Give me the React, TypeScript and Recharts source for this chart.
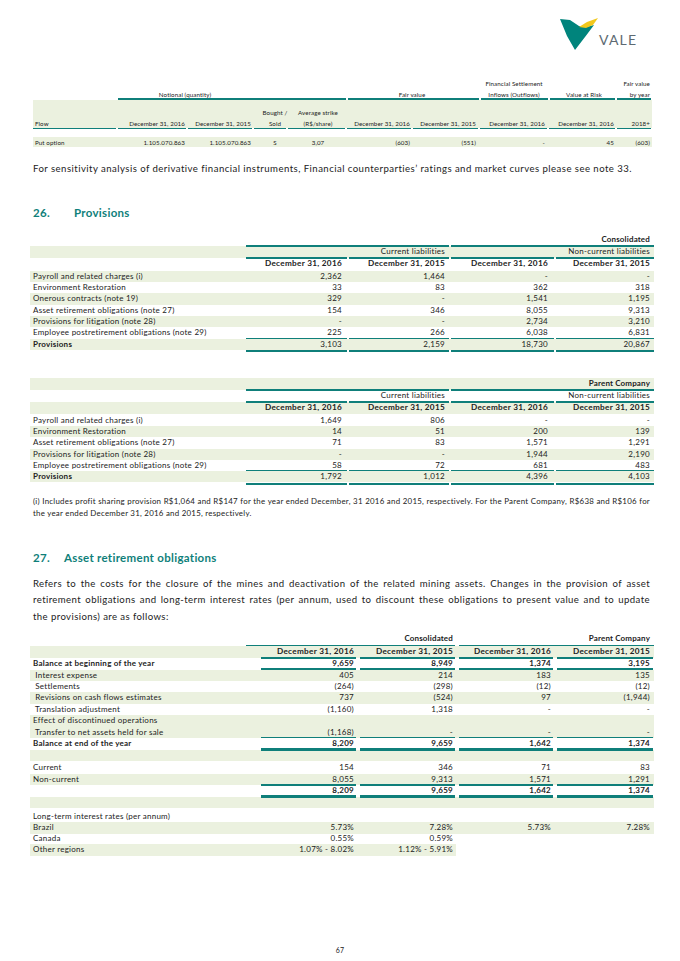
import React from "react";
import { Surface, Polygon, Text } from "recharts";

// ---- data ----
const flowHeaders = ["Flow", "December 31, 2016", "December 31, 2015", "Bought / Sold", "Average strike (R$/share)", "December 31, 2016", "December 31, 2015", "December 31, 2016", "December 31, 2016", "2018+"];
const flowRow = ["Put option", "1.105.070.863", "1.105.070.863", "S", "3,07", "(603)", "(551)", "-", "45", "(603)"];

const provDates = ["December 31, 2016", "December 31, 2015", "December 31, 2016", "December 31, 2015"];

const consLabels = [
  "Payroll and related charges (i)",
  "Environment Restoration",
  "Onerous contracts (note 19)",
  "Asset retirement obligations (note 27)",
  "Provisions for litigation (note 28)",
  "Employee postretirement obligations (note 29)",
  "Provisions",
];
const consCurrent2016 = ["2,362", "33", "329", "154", "-", "225", "3,103"];
const consCurrent2015 = ["1,464", "83", "-", "346", "-", "266", "2,159"];
const consNonCurrent2016 = ["-", "362", "1,541", "8,055", "2,734", "6,038", "18,730"];
const consNonCurrent2015 = ["-", "318", "1,195", "9,313", "3,210", "6,831", "20,867"];

const parentLabels = [
  "Payroll and related charges (i)",
  "Environment Restoration",
  "Asset retirement obligations (note 27)",
  "Provisions for litigation (note 28)",
  "Employee postretirement obligations (note 29)",
  "Provisions",
];
const parentCurrent2016 = ["1,649", "14", "71", "-", "58", "1,792"];
const parentCurrent2015 = ["806", "51", "83", "-", "72", "1,012"];
const parentNonCurrent2016 = ["-", "200", "1,571", "1,944", "681", "4,396"];
const parentNonCurrent2015 = ["-", "139", "1,291", "2,190", "483", "4,103"];

const aroLabels = [
  "Balance at beginning of the year",
  " Interest expense",
  " Settlements",
  " Revisions on cash flows estimates",
  " Translation adjustment",
  "Effect of discontinued operations",
  " Transfer to net assets held for sale",
  "Balance at end of the year",
  "",
  "Current",
  "Non-current",
  "",
  "",
  "Long-term interest rates (per annum)",
  "Brazil",
  "Canada",
  "Other regions",
];
const aroCons2016 = ["9,659", "405", "(264)", "737", "(1,160)", "", "(1,168)", "8,209", "", "154", "8,055", "8,209", "", "", "5.73%", "0.55%", "1.07% - 8.02%"];
const aroCons2015 = ["8,949", "214", "(298)", "(524)", "1,318", "", "-", "9,659", "", "346", "9,313", "9,659", "", "", "7.28%", "0.59%", "1.12% - 5.91%"];
const aroParent2016 = ["1,374", "183", "(12)", "97", "-", "", "-", "1,642", "", "71", "1,571", "1,642", "", "", "5.73%", "", ""];
const aroParent2015 = ["3,195", "135", "(12)", "(1,944)", "-", "", "-", "1,374", "", "83", "1,291", "1,374", "", "", "7.28%", "", ""];

const sensitivityNote =
  "For sensitivity analysis of derivative financial instruments, Financial counterparties’ ratings and market curves please see note 33.";
const footnoteLines = [
  "(i) Includes profit sharing provision R$1,064 and R$147 for the year ended December, 31 2016 and 2015, respectively. For the Parent Company, R$638 and R$106 for",
  "the year ended December 31, 2016 and 2015, respectively.",
];
const aroParagraph = [
  "Refers to the costs for the closure of the mines and deactivation of the related mining assets. Changes in the provision of asset",
  "retirement obligations and long-term interest rates (per annum, used to discount these obligations to present value and to update",
  "the provisions) are as follows:",
];

// ---- styles ----
const TEAL = "#0f7f7a";
const BAND = "#ebf1df";
const INK = "#222";
const FONT = "Lato, 'Open Sans', sans-serif";

type Align = "l" | "r" | "c";

const T: React.FC<{
  x: number;
  y: number;
  a?: Align;
  s?: number;
  w?: number;
  c?: string;
  ls?: number;
  children: React.ReactNode;
}> = ({ x, y, a = "l", s = 8, w = 400, c = INK, ls = 0.25, children }) => {
  const lh = s * 1.4;
  const style: React.CSSProperties = {
    position: "absolute",
    top: y - lh / 2,
    height: lh,
    lineHeight: `${lh}px`,
    fontSize: s,
    fontWeight: w,
    color: c,
    letterSpacing: ls,
    whiteSpace: "pre",
  };
  if (a === "l") style.left = x;
  if (a === "r") style.right = 680 - x;
  if (a === "c") {
    style.left = x - 100;
    style.width = 200;
    style.textAlign = "center";
  }
  return <div style={style}>{children}</div>;
};

const Band: React.FC<{ y: number; x0?: number; x1?: number; h?: number }> = ({ y, x0 = 30, x1 = 654, h = 11.2 }) => (
  <div style={{ position: "absolute", left: x0, width: x1 - x0, top: y - h / 2, height: h, background: BAND }} />
);

const Rule: React.FC<{ y: number; segs: number[][]; t?: number }> = ({ y, segs, t = 1.2 }) => (
  <>
    {segs.map(([a, b], i) => (
      <div key={i} style={{ position: "absolute", left: a, width: b - a, top: y - t / 2, height: t, background: TEAL }} />
    ))}
  </>
);

const provCols = [342, 445, 548, 650];
const provSegs = [[246, 347], [349, 449], [451, 554], [556, 654]];
const provHalf = [[246, 449], [451, 654]];

const aroCols = [354, 453, 551, 650];
const aroSegs = [[261, 356], [360, 455], [459, 553], [557, 653]];

const Logo = () => (
  <div style={{ position: "absolute", left: 555, top: 12 }}>
    <Surface width={100} height={45} viewBox={{ x: 0, y: 0, width: 100, height: 45 }}>
      <Polygon
        points={[
          { x: 5, y: 7 }, { x: 15, y: 8 }, { x: 24, y: 14 }, { x: 31, y: 15 }, { x: 39, y: 13 },
          { x: 30, y: 25 }, { x: 20, y: 38 }, { x: 12, y: 24 },
        ]}
        fill="#00847c"
      />
      <Polygon
        points={[{ x: 24, y: 15 }, { x: 32, y: 10 }, { x: 43, y: 6 }, { x: 38, y: 13 }, { x: 31, y: 16 }]}
        fill="#f2c81c"
      />
      <Text x={44} y={28} verticalAnchor="middle" fontSize={14} fill="#5d6a72" fontFamily={FONT} letterSpacing={1.2}>
        VALE
      </Text>
    </Surface>
  </div>
);

const ProvTable: React.FC<{
  top: number;
  title: string;
  labels: string[];
  cols: string[][];
  firstBand: boolean;
}> = ({ top, title, labels, cols, firstBand }) => {
  const yTitle = top;
  const yCur = top + 12;
  const yDates = top + 24;
  const body0 = top + 36.5;
  const rh = 11.27;
  const last = labels.length - 1;
  return (
    <>
      {firstBand ? <Band y={yCur} /> : <Band y={yTitle} h={12} />}
      {!firstBand && <Band y={yDates} />}
      {labels.map((_, i) => ((i % 2 === 0) === firstBand ? <Band key={i} y={body0 + i * rh} /> : null))}
      <T x={650} y={yTitle} a="r" w={700} ls={0.15}>{title}</T>
      <Rule y={yTitle + 6} segs={provHalf} />
      <T x={445} y={yCur} a="r">Current liabilities</T>
      <T x={650} y={yCur} a="r">Non-current liabilities</T>
      <Rule y={yCur + 6} segs={provSegs} t={1.6} />
      {provDates.map((d, j) => (
        <T key={j} x={provCols[j]} y={yDates} a="r" w={700} s={8.2} ls={0.3}>{d}</T>
      ))}
      {labels.map((l, i) => (
        <React.Fragment key={i}>
          <T x={33} y={body0 + i * rh} w={i === last ? 700 : 400}>{l}</T>
          {cols.map((c, j) => (
            <T key={j} x={provCols[j]} y={body0 + i * rh} a="r">{c[i]}</T>
          ))}
        </React.Fragment>
      ))}
      <Rule y={body0 + last * rh - 6} segs={provSegs} />
      <Rule y={body0 + last * rh + 7} segs={provSegs} t={2.6} />
    </>
  );
};

const aroYs = [664, 675.5, 686.5, 698, 709.5, 721, 732.5, 744, 755.5, 768, 779.5, 791, 802.5, 817, 828, 839, 850];
const aroBands = [1, 3, 5, 6, 8, 10, 12, 14, 16];
const aroBold = [0, 7, 11];

const AroTable = () => {
  const cols = [aroCons2016, aroCons2015, aroParent2016, aroParent2015];
  return (
    <>
      <Band y={651.5} h={12} />
      {aroBands.map((i) => (
        <Band key={i} y={aroYs[i]} x1={i === 16 ? 456 : 654} />
      ))}
      <T x={453} y={639} a="r" w={700} ls={0.15}>Consolidated</T>
      <T x={650} y={639} a="r" w={700} ls={0.15}>Parent Company</T>
      <Rule y={645.5} segs={[[246, 455], [459, 654]]} t={1.6} />
      {provDates.map((d, j) => (
        <T key={j} x={aroCols[j]} y={652} a="r" w={700} s={8.2} ls={0.3}>{d}</T>
      ))}
      <Rule y={658} segs={aroSegs} t={2.4} />
      {aroLabels.map((l, i) => (
        <React.Fragment key={i}>
          <T x={33} y={aroYs[i]} w={aroBold.includes(i) ? 700 : 400}>{l}</T>
          {cols.map((c, j) => (
            <T key={j} x={aroCols[j]} y={aroYs[i]} a="r" w={aroBold.includes(i) ? 700 : 400}>{c[i]}</T>
          ))}
        </React.Fragment>
      ))}
      <Rule y={669} segs={aroSegs} t={1.6} />
      <Rule y={737.5} segs={aroSegs} />
      <Rule y={749.5} segs={aroSegs} t={2.6} />
      <Rule y={785} segs={aroSegs} />
      <Rule y={796.5} segs={aroSegs} t={2.6} />
    </>
  );
};

const FlowTable = () => {
  const hs = 6.2;
  const rights = [0, 185, 251, 0, 0, 410, 476, 545, 614, 650];
  const centers = [0, 0, 0, 275, 318];
  const segs = [[33, 116], [118, 186], [188, 252], [254, 286], [288, 345], [347, 411], [413, 478], [480, 547], [549, 615], [617, 651]];
  return (
    <>
      <T x={185} y={95} a="c" s={hs} ls={0.1}>Notional (quantity)</T>
      <T x={412} y={95} a="c" s={hs} ls={0.1}>Fair value</T>
      <T x={514} y={84} a="c" s={hs} ls={0.1}>Financial Settlement</T>
      <T x={514} y={95} a="c" s={hs} ls={0.1}>Inflows (Outflows)</T>
      <T x={584} y={95} a="c" s={hs} ls={0.1}>Value at Risk</T>
      <T x={650} y={84} a="r" s={hs} ls={0.1}>Fair value</T>
      <T x={650} y={95} a="r" s={hs} ls={0.1}>by year</T>
      <Rule y={99} segs={[[118, 346], [348, 479], [481, 548], [550, 615], [617, 651]]} t={1.4} />
      <div style={{ position: "absolute", left: 33, width: 619, top: 100, height: 28, background: BAND }} />
      <T x={35} y={124} s={hs} ls={0.1}>{flowHeaders[0]}</T>
      {[1, 2, 5, 6, 7, 8, 9].map((j) => (
        <T key={j} x={rights[j]} y={124} a="r" s={hs} ls={0.1}>{flowHeaders[j]}</T>
      ))}
      <T x={centers[3]} y={113} a="c" s={hs} ls={0.1}>Bought /</T>
      <T x={centers[3]} y={124} a="c" s={hs} ls={0.1}>Sold</T>
      <T x={centers[4]} y={113} a="c" s={hs} ls={0.1}>Average strike</T>
      <T x={centers[4]} y={124} a="c" s={hs} ls={0.1}>(R$/share)</T>
      <Rule y={128.5} segs={segs} t={1.4} />
      <div style={{ position: "absolute", left: 33, width: 619, top: 137, height: 10, background: BAND }} />
      <T x={35} y={143} s={hs} ls={0.1}>{flowRow[0]}</T>
      {[1, 2, 5, 6, 7, 8, 9].map((j) => (
        <T key={j} x={rights[j]} y={143} a="r" s={hs} ls={0.1}>{flowRow[j]}</T>
      ))}
      <T x={centers[3]} y={143} a="c" s={hs} ls={0.1}>{flowRow[3]}</T>
      <T x={centers[4]} y={143} a="c" s={hs} ls={0.1}>{flowRow[4]}</T>
    </>
  );
};

const Justified: React.FC<{ lines: string[]; top: number; lh: number; s: number; ls: number }> = ({ lines, top, lh, s, ls }) => (
  <>
    {lines.map((l, i) => (
      <div
        key={i}
        style={{
          position: "absolute",
          left: 33,
          width: 617,
          top: top + i * lh - lh / 2,
          height: lh,
          lineHeight: `${lh}px`,
          fontSize: s,
          letterSpacing: ls,
          color: INK,
          textAlign: "justify",
          textAlignLast: i < lines.length - 1 ? "justify" : "left",
          whiteSpace: "nowrap",
        }}
      >
        {l}
      </div>
    ))}
  </>
);

export default function App() {
  return (
    <div
      style={{
        position: "absolute",
        left: 0,
        top: 0,
        width: 680,
        height: 961,
        background: "#fff",
        fontFamily: FONT,
        overflow: "hidden",
      }}
    >
      <Logo />
      <FlowTable />
      <T x={33} y={169} s={9.6} ls={0.45}>{sensitivityNote}</T>
      <T x={33} y={213} s={11.5} w={700} c={TEAL} ls={0.3}>26.</T>
      <T x={74} y={213} s={11.5} w={700} c={TEAL} ls={0.3}>Provisions</T>
      <ProvTable
        top={240}
        title="Consolidated"
        labels={consLabels}
        cols={[consCurrent2016, consCurrent2015, consNonCurrent2016, consNonCurrent2015]}
        firstBand={true}
      />
      <ProvTable
        top={384}
        title="Parent Company"
        labels={parentLabels}
        cols={[parentCurrent2016, parentCurrent2015, parentNonCurrent2016, parentNonCurrent2015]}
        firstBand={false}
      />
      <Justified lines={footnoteLines} top={502} lh={11.5} s={7.9} ls={0.25} />
      <T x={33} y={558} s={11.5} w={700} c={TEAL} ls={0.3}>27.</T>
      <T x={64} y={558} s={11.5} w={700} c={TEAL} ls={0.3}>Asset retirement obligations</T>
      <Justified lines={aroParagraph} top={584} lh={16.5} s={9.6} ls={0.4} />
      <AroTable />
      <T x={340} y={951} a="c" s={7}>67</T>
    </div>
  );
}
